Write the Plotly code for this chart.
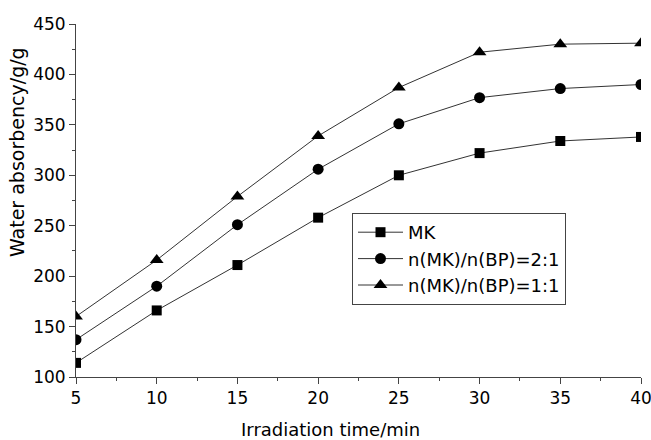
import plotly.graph_objects as go

time_min = [5, 10, 15, 20, 25, 30, 35, 40]
mk = [114, 166, 211, 258, 300, 322, 334, 338]
mk_bp_2_1 = [137, 190, 251, 306, 351, 377, 386, 390]
mk_bp_1_1 = [160, 216, 279, 339, 387, 422, 430, 431]

series_names = ["MK", "n(MK)/n(BP)=2:1", "n(MK)/n(BP)=1:1"]
series_values = [mk, mk_bp_2_1, mk_bp_1_1]
symbols = ["square", "circle", "triangle-up"]
sizes = [10, 11, 12]

x_title = "Irradiation time/min"
y_title = "Water absorbency/g/g"

fig = go.Figure()
for name, vals, sym, sz in zip(series_names, series_values, symbols, sizes):
    fig.add_trace(go.Scatter(
        x=time_min, y=vals, name=name, mode="lines+markers",
        line=dict(color="#333333", width=1),
        marker=dict(symbol=sym, size=sz, color="black"),
    ))

font_family = "DejaVu Sans, Arial, sans-serif"
fig.update_layout(
    width=651, height=440,
    margin=dict(l=76, r=10, t=24, b=63),
    paper_bgcolor="white", plot_bgcolor="white",
    font=dict(family=font_family, color="black", size=17),
    showlegend=True,
    legend=dict(
        x=(352 - 76) / 565, y=(377 - 213) / 353, xanchor="left", yanchor="top",
        bordercolor="#444444", borderwidth=1, bgcolor="white",
        font=dict(size=18), tracegroupgap=0, itemwidth=45,
    ),
    annotations=[
        dict(text=x_title, xref="paper", yref="paper",
             x=(330 - 76) / 565, y=(377 - 429) / 353,
             xanchor="center", yanchor="middle", showarrow=False,
             font=dict(size=18)),
        dict(text=y_title, xref="paper", yref="paper",
             x=(17 - 76) / 565, y=(377 - 152) / 353, textangle=-90,
             xanchor="center", yanchor="middle", showarrow=False,
             font=dict(size=19)),
    ],
)
fig.update_xaxes(
    range=[5, 40], tickvals=[5, 10, 15, 20, 25, 30, 35, 40],
    showgrid=False, zeroline=False, showline=True, linecolor="#444444", linewidth=1,
    ticks="outside", ticklen=6, tickcolor="#444444",
    minor=dict(ticks="outside", ticklen=3, dtick=2.5, tickcolor="#444444"),
    tickfont=dict(size=17), ticklabeloverflow="allow", automargin=False,
)
fig.update_yaxes(
    range=[100, 450], tickvals=[100, 150, 200, 250, 300, 350, 400, 450],
    showgrid=False, zeroline=False, showline=True, linecolor="#444444", linewidth=1,
    ticks="outside", ticklen=6, tickcolor="#444444",
    minor=dict(ticks="outside", ticklen=3, dtick=25, tickcolor="#444444"),
    tickfont=dict(size=17), ticklabeloverflow="allow", automargin=False,
)

fig.write_html("out.html", config={"displayModeBar": False},
               post_script="document.body.style.margin='0';")
